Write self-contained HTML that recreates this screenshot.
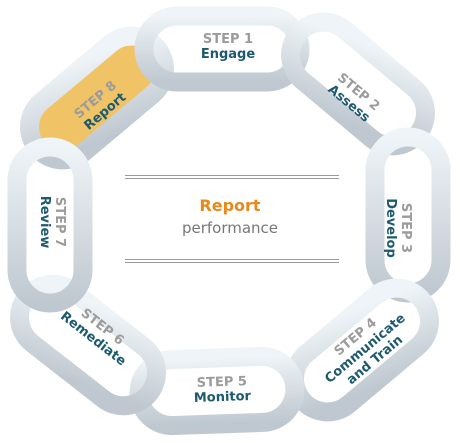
<!DOCTYPE html>
<html><head><style>
html,body{margin:0;padding:0;background:#fff;}
svg{display:block;}
text{font-family:"DejaVu Sans","Liberation Sans",sans-serif;font-weight:bold;font-size:13px;text-anchor:middle;}
.s{fill:#9b9b9b;}
.n{fill:#1d5a70;}
</style></head><body>
<svg width="460" height="443" viewBox="0 0 460 443" xmlns="http://www.w3.org/2000/svg">
<defs>
<linearGradient id="g0" x1="0" y1="0" x2="0" y2="1"><stop offset="0" stop-color="#eef4f7"/><stop offset="1" stop-color="#bfc8d0"/></linearGradient>
<linearGradient id="g40" href="#g0" gradientTransform="rotate(-40 .5 .5)"/>
<linearGradient id="gm40" href="#g0" gradientTransform="rotate(40 .5 .5)"/>
<linearGradient id="g90" href="#g0" gradientTransform="rotate(-90 .5 .5)"/>
<linearGradient id="g38" href="#g0" gradientTransform="rotate(-38 .5 .5)"/>
</defs>
<g fill="none" stroke-width="19">
<g transform="translate(97,98) rotate(-40)">
<rect x="-78" y="-33" width="156" height="66" rx="33" fill="#f0c366" stroke="none"/>
<rect x="-78" y="-33" width="156" height="66" rx="33" stroke="url(#gm40)"/>
</g>
<g transform="translate(222,49)"><rect x="-78" y="-33" width="156" height="66" rx="33" stroke="url(#g0)"/></g>
<g transform="translate(358,84) rotate(40)"><rect x="-78" y="-33" width="156" height="66" rx="33" stroke="url(#g40)"/></g>
<g transform="translate(408,215) rotate(90)"><rect x="-78" y="-33" width="156" height="66" rx="33" stroke="url(#g90)"/></g>
<g transform="translate(362,350) rotate(-40)"><rect x="-78" y="-33" width="156" height="66" rx="33" stroke="url(#gm40)"/></g>
<g transform="translate(217,391) rotate(-2)"><rect x="-78" y="-33" width="156" height="66" rx="33" stroke="url(#g0)"/></g>
<g transform="translate(88,345) rotate(38)"><rect x="-78" y="-33" width="156" height="66" rx="33" stroke="url(#g38)"/></g>
<g transform="translate(50,225) rotate(90)"><rect x="-78" y="-33" width="156" height="66" rx="33" stroke="url(#g90)"/></g>
</g>

<g transform="translate(228,43)"><text class="s">STEP 1</text><text class="n" y="15">Engage</text></g>
<g transform="translate(356,95) rotate(40)"><text class="s">STEP 2</text><text class="n" y="15">Assess</text></g>
<g transform="translate(402,228) rotate(90)"><text class="s">STEP 3</text><text class="n" y="15">Develop</text></g>
<g transform="translate(358,340) rotate(-40)"><text class="s">STEP 4</text><text class="n" y="15">Communicate</text><text class="n" y="30">and Train</text></g>
<g transform="translate(222,386) rotate(-2)"><text class="s">STEP 5</text><text class="n" y="15">Monitor</text></g>
<g transform="translate(100,330) rotate(38)"><text class="s">STEP 6</text><text class="n" y="15">Remediate</text></g>
<g transform="translate(56,222) rotate(90)"><text class="s">STEP 7</text><text class="n" y="15">Review</text></g>
<g transform="translate(98,103) rotate(-40)"><text class="s">STEP 8</text><text class="n" y="15">Report</text></g>

<g stroke="#9a9a9a" stroke-width="1">
<line x1="125" y1="175.5" x2="339" y2="175.5"/><line x1="125" y1="178.5" x2="339" y2="178.5"/>
<line x1="125" y1="259.5" x2="339" y2="259.5"/><line x1="125" y1="262.5" x2="339" y2="262.5"/>
</g>
<text x="230" y="211" style="fill:#e8891a;font-size:16px">Report</text>
<text x="230" y="233" style="fill:#777;font-weight:normal;font-size:15px">performance</text>
</svg>
</body></html>
